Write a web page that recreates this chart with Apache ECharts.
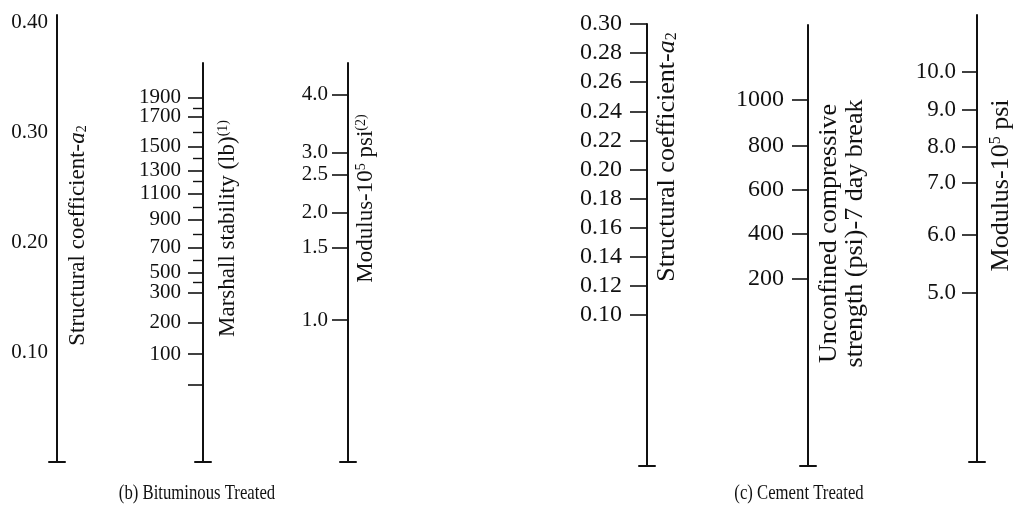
<!DOCTYPE html>
<html><head><meta charset="utf-8">
<script src="https://cdn.jsdelivr.net/npm/echarts@6/dist/echarts.min.js"></script>
<style>html,body{margin:0;padding:0;background:#fff}#c{width:1014px;height:508px}</style>
</head><body><div id="c"></div>
<script>
// ---------- DATA (every scale is placed on its equivalent structural coefficient a2) ----------
// (b) Bituminous treated
const bitCoefTicks = [0.10, 0.20, 0.30, 0.40];
const marshallLabels = [1900, 1700, 1500, 1300, 1100, 900, 700, 500, 300, 200, 100];
const marshallA2 = [0.331, 0.314, 0.287, 0.265, 0.244, 0.220, 0.195, 0.172, 0.154, 0.127, 0.098];
const marshallMinorA2 = [0.322, 0.300, 0.276, 0.255, 0.232, 0.207, 0.183, 0.163];
const marshallExtraA2 = [0.070];
const bitModLabels = [4.0, 3.0, 2.5, 2.0, 1.5, 1.0];
const bitModA2 = [0.334, 0.281, 0.261, 0.227, 0.195, 0.129];
// (c) Cement treated
const cemCoefTicks = [0.30, 0.28, 0.26, 0.24, 0.22, 0.20, 0.18, 0.16, 0.14, 0.12, 0.10];
const cemStrengthLabels = [1000, 800, 600, 400, 200];
const cemStrengthA2 = [0.248, 0.216, 0.186, 0.156, 0.125];
const cemModLabels = [10.0, 9.0, 8.0, 7.0, 6.0, 5.0];
const cemModA2 = [0.267, 0.241, 0.2155, 0.191, 0.155, 0.115];
const panelTitles = ['(b) Bituminous Treated', '(c) Cement Treated'];

// ---------- LAYOUT ----------
const FONT = 'Liberation Serif';
const INK = '#111';
function lookup(vals, texts, fmt) {
  return function (v) {
    const i = vals.findIndex(a => Math.abs(a - v) < 1e-9);
    return i < 0 ? '' : fmt(texts[i]);
  };
}
function richFor(fs) {
  const s = Math.round(fs * 0.62);
  return {
    it: { fontFamily: FONT, fontSize: fs, fontStyle: 'italic', color: INK },
    sub: { fontFamily: FONT, fontSize: s, lineHeight: s, verticalAlign: 'bottom', color: INK },
    sup: { fontFamily: FONT, fontSize: s, lineHeight: s, verticalAlign: 'top', color: INK }
  };
}
// Marshall labels are packed tightly: alternate them over two coincident axes so none is dropped
const marshallEven = marshallA2.filter((v, i) => i % 2 === 0);
const marshallOdd = marshallA2.filter((v, i) => i % 2 === 1);
const marshallFmt = lookup(marshallA2, marshallLabels, v => String(v));

const axes = [
  { x: 57, top: 15, bottom: 462, min: 0, max: 0.4064,
    labels: bitCoefTicks, fmt: lookup(bitCoefTicks, bitCoefTicks, v => v.toFixed(2)),
    ticks: [], tickLen: 0, margin: 9, fs: 21, nfs: 23,
    name: 'Structural coefficient-{it|a}{sub|2}', gap: 9, pad: 6 },
  { x: 203, top: 63, bottom: 462, min: 0, max: 0.3627,
    labels: marshallEven, fmt: marshallFmt,
    ticks: marshallA2.concat(marshallExtraA2), tickLen: 15, margin: 22, fs: 21, nfs: 23,
    minor: marshallMinorA2, minorLabels: marshallOdd,
    name: 'Marshall stability (lb){sup|(1)}', gap: 13, pad: 68 },
  { x: 348, top: 63, bottom: 462, min: 0, max: 0.3627,
    labels: bitModA2, fmt: lookup(bitModA2, bitModLabels, v => v.toFixed(1)),
    ticks: bitModA2, tickLen: 16, margin: 20, fs: 21, nfs: 23,
    name: 'Modulus-10{sup|5} psi{sup|(2)}', gap: 6, pad: 128 },
  { x: 647, top: 24, bottom: 466, min: -0.0038, max: 0.30,
    labels: cemCoefTicks, fmt: lookup(cemCoefTicks, cemCoefTicks, v => v.toFixed(2)),
    ticks: cemCoefTicks, tickLen: 17, margin: 25, fs: 24, nfs: 26,
    name: 'Structural coefficient-{it|a}{sub|2}', gap: 7, pad: 176 },
  { x: 808, top: 25, bottom: 466, min: -0.0038, max: 0.2993,
    labels: cemStrengthA2, fmt: lookup(cemStrengthA2, cemStrengthLabels, v => String(v)),
    ticks: cemStrengthA2, tickLen: 16, margin: 24, fs: 24, nfs: 26,
    name: 'Unconfined compressive\nstrength (psi)-7 day break', gap: 8, pad: 24 },
  { x: 977, top: 15, bottom: 462, min: -0.001, max: 0.3062,
    labels: cemModA2, fmt: lookup(cemModA2, cemModLabels, v => v.toFixed(1)),
    ticks: cemModA2, tickLen: 15, margin: 21, fs: 23, nfs: 26,
    name: 'Modulus-10{sup|5} psi', gap: 11, pad: 106 }
];

const grid = [], xAxis = [], yAxis = [];
axes.forEach((a, i) => {
  grid.push({ left: a.x - 8, width: 16, top: a.top, height: a.bottom - a.top, outerBoundsMode: 'none', containLabel: false });
  xAxis.push({ type: 'value', gridIndex: i, min: 0, max: 1,
    axisLine: { show: true, onZero: false, lineStyle: { color: INK, width: 2 } },
    axisTick: { show: false }, axisLabel: { show: false }, splitLine: { show: false } });
  yAxis.push({ type: 'value', gridIndex: i, position: 'right', offset: -8, min: a.min, max: a.max,
    axisLine: { show: true, onZero: false, lineStyle: { color: INK, width: 2 } },
    axisTick: { show: a.tickLen > 0, inside: true, length: a.tickLen, customValues: a.ticks,
      lineStyle: { color: INK, width: 1.6 } },
    axisLabel: { show: true, inside: true, margin: a.margin, customValues: a.labels, formatter: a.fmt,
      hideOverlap: false, fontFamily: FONT, fontSize: a.fs, color: INK },
    splitLine: { show: false },
    name: a.name, nameLocation: 'middle', nameGap: a.gap, nameRotate: 90, nameMoveOverlap: false,
    nameTextStyle: { fontFamily: FONT, fontSize: a.nfs, color: INK, lineHeight: a.nfs,
      padding: [0, 0, 0, a.pad], rich: richFor(a.nfs) } });
  if (a.minor) {
    yAxis.push({ type: 'value', gridIndex: i, position: 'right', offset: -8, min: a.min, max: a.max,
      axisLine: { show: false, onZero: false },
      axisTick: { show: true, inside: true, length: 10, customValues: a.minor,
        lineStyle: { color: INK, width: 1.4 } },
      axisLabel: { show: true, inside: true, margin: a.margin, customValues: a.minorLabels, formatter: a.fmt,
        hideOverlap: false, fontFamily: FONT, fontSize: a.fs, color: INK },
      splitLine: { show: false } });
  }
});

const chart = echarts.init(document.getElementById('c'), null, { renderer: 'canvas' });
chart.setOption({
  backgroundColor: '#fff',
  animation: false,
  graphic: [
    { type: 'text', x: 197, y: 493, scaleX: 0.76, silent: true,
      style: { text: panelTitles[0], fontFamily: FONT, fontSize: 22, fill: INK, align: 'center', verticalAlign: 'middle' } },
    { type: 'text', x: 799, y: 493, scaleX: 0.76, silent: true,
      style: { text: panelTitles[1], fontFamily: FONT, fontSize: 22, fill: INK, align: 'center', verticalAlign: 'middle' } }
  ],
  grid: grid, xAxis: xAxis, yAxis: yAxis, series: []
});
</script></body></html>
